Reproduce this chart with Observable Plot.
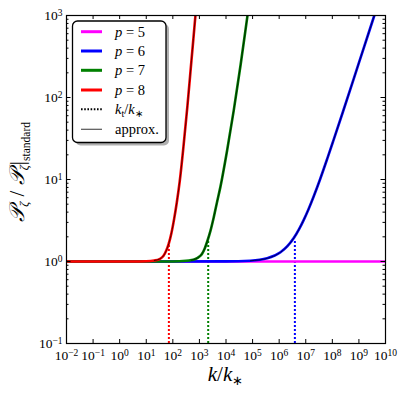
<!DOCTYPE html>
<html><head><meta charset="utf-8">
<script src="https://cdn.jsdelivr.net/npm/d3@7"></script>
<script src="https://cdn.jsdelivr.net/npm/@observablehq/plot@0.6"></script>
<style>
body{margin:0;background:#fff;}
#wrap{width:405px;height:394px;}
</style></head><body><div id="wrap"></div>
<script>
// ---- data ----
const seriesP = [5, 6, 7, 8];
const seriesColors = ["#ff00ff", "#0000ff", "#008000", "#ff0000"];

const k_p5 = [1e-2, 1e10];
const P_p5 = [1, 1];

const k_p6 = [1e-2, 1e4, 8.3e4, 3.55e5, 1.12e6, 2.0e6, 3.55e6, 5.62e6, 8.51e6, 1.26e7, 2.0e7, 3.55e7, 6.46e7, 1.07e8, 2.51e8, 6.46e8, 1.58e9, 3.8e9, 5.0e9];
const P_p6 = [1, 1.003, 1.022, 1.093, 1.295, 1.525, 1.93, 2.48, 3.24, 4.31, 6.25, 10.3, 18, 29.2, 67, 171, 418, 1000, 1320];

const k_p7 = [1e-2, 1e2, 316, 501, 708, 1000, 1259, 1585, 1995, 2630, 3467, 4571, 6166, 10965, 19498, 35481, 63096, 72444];
const P_p7 = [1, 1.002, 1.019, 1.04, 1.072, 1.148, 1.245, 1.445, 1.778, 2.40, 3.47, 5.25, 8.13, 22.4, 69.2, 251, 955, 1318];

const k_p8 = [1e-2, 3.2, 10, 20, 31.6, 44.7, 56.2, 70.8, 89.1, 112, 141, 182, 251, 355, 501, 708, 794];
const P_p8 = [1, 1.001, 1.007, 1.028, 1.072, 1.175, 1.35, 1.66, 2.24, 3.31, 5.25, 9.55, 25.1, 79.4, 282, 1000, 1585];

// transition scales k_t/k_* (dotted lines) and curve value where they stop
const kt = [null, 3.9e6, 2.14e3, 71];
const ktTop = [null, 1.85, 1.8, 1.68];

const xTicks = [1e-2,1e-1,1e0,1e1,1e2,1e3,1e4,1e5,1e6,1e7,1e8,1e9,1e10];
const yTicks = [1e-1,1e0,1e1,1e2,1e3];
const yMinor = [];
for (const d of [1e-1,1e0,1e1,1e2]) for (const m of [2,3,4,5,6,7,8,9]) yMinor.push(d*m);

// ---- build tables ----
const ks = [k_p5, k_p6, k_p7, k_p8], Ps = [P_p5, P_p6, P_p7, P_p8];
const curves = [];
seriesP.forEach((p, i) => ks[i].forEach((k, j) => curves.push({p, k, P: Ps[i][j]})));
const approx = curves.filter(d => d.p !== 5 && d.P >= 1.02);
const dotted = [];
seriesP.forEach((p, i) => { if (kt[i]) dotted.push({p, k: kt[i], y1: 0.1, y2: ktTop[i]}); });

const W = 405, H = 394, mL = 66, mR = 20, mT = 15, mB = 51;
const fw = W - mL - mR, fh = H - mT - mB;
const colorScale = {domain: seriesP, range: seriesColors};

const svg = Plot.plot({
  width: W, height: H,
  marginLeft: mL, marginRight: mR, marginTop: mT, marginBottom: mB,
  style: {fontFamily: "'Liberation Serif', 'DejaVu Serif', serif", fontSize: "13px", color: "#000", background: "#fff"},
  x: {type: "log", domain: [1e-2, 1e10]},
  y: {type: "log", domain: [0.1, 1000]},
  color: colorScale,
  marks: [
    Plot.ruleX(dotted, {x: "k", y1: "y1", y2: "y2", stroke: "p", strokeWidth: 2, strokeDasharray: "2,2"}),
    Plot.line(curves, {x: "k", y: "P", z: "p", stroke: "p", strokeWidth: 2.6, curve: "monotone-x", clip: true}),
    Plot.line(approx, {x: "k", y: "P", z: "p", stroke: "#000", strokeWidth: 0.9, strokeOpacity: 0.75, curve: "monotone-x", clip: true}),
    // inward ticks on all four sides
    Plot.tickX(xTicks, {x: d => d, insetTop: fh - 4, stroke: "#000"}),
    Plot.tickX(xTicks, {x: d => d, insetBottom: fh - 4, stroke: "#000"}),
    Plot.tickY(yTicks, {y: d => d, insetRight: fw - 4.5, stroke: "#000"}),
    Plot.tickY(yTicks, {y: d => d, insetLeft: fw - 4.5, stroke: "#000"}),
    Plot.tickY(yMinor, {y: d => d, insetRight: fw - 2.5, stroke: "#000"}),
    Plot.tickY(yMinor, {y: d => d, insetLeft: fw - 2.5, stroke: "#000"}),
    Plot.axisX({ticks: xTicks, tickSize: 0, tickPadding: 7, tickFormat: d => "10^" + Math.round(Math.log10(d)), label: null, fontSize: 13.5}),
    Plot.axisY({ticks: yTicks, tickSize: 0, tickPadding: 4, tickFormat: d => "10^" + Math.round(Math.log10(d)), label: null, fontSize: 13.5}),
    Plot.frame({stroke: "#000", strokeWidth: 1.2})
  ]
});
document.getElementById("wrap").appendChild(svg);

const S = d3.select(svg);
// superscripts in tick labels
S.selectAll('g[aria-label="x-axis tick label"] text, g[aria-label="y-axis tick label"] text').each(function() {
  const t = this.textContent;
  const [b, e] = t.split("^");
  const el = d3.select(this);
  el.text(null);
  el.append("tspan").text(b);
  el.append("tspan").attr("dy", "-0.45em").attr("font-size", "9.5px").text(e.replace("-", "\u2212"));
});

// x label
const xl = S.append("text").attr("x", mL + fw / 2).attr("y", 381).attr("text-anchor", "middle")
  .attr("font-family", "'Liberation Serif', serif").attr("font-size", "21px");
xl.append("tspan").attr("font-style", "italic").text("k");
xl.append("tspan").text("/");
xl.append("tspan").attr("font-style", "italic").text("k");
xl.append("tspan").attr("font-size", "13px").attr("dy", "4").text("\u2217");

// y label
const yl = S.append("text").attr("transform", "translate(24,172) rotate(-90)").attr("text-anchor", "middle")
  .attr("font-family", "'Liberation Serif', serif").attr("font-size", "21px");
yl.append("tspan").attr("font-style", "italic").text("\uD835\uDCAB");
yl.append("tspan").attr("font-size", "13px").attr("dy", "4").attr("font-style", "italic").text("ζ");
yl.append("tspan").attr("dy", "-4").text(" / ");
yl.append("tspan").attr("font-style", "italic").text("\uD835\uDCAB");
yl.append("tspan").attr("font-size", "13px").attr("dy", "4").attr("font-style", "italic").text("ζ");
yl.append("tspan").attr("dy", "-4").text("|");
yl.append("tspan").attr("font-size", "11.5px").attr("dy", "6").text("standard");

// legend
const lg = S.append("g").attr("font-family", "'Liberation Serif', serif").attr("font-size", "14.5px").attr("text-anchor", "start");
const bx = 72.5, by = 21, bw = 93.5, bh = 121.5;
lg.append("rect").attr("x", bx + 3).attr("y", by + 3).attr("width", bw).attr("height", bh).attr("rx", 5).attr("fill", "#b0b0b0");
lg.append("rect").attr("x", bx).attr("y", by).attr("width", bw).attr("height", bh).attr("rx", 5).attr("fill", "#fff").attr("stroke", "#000").attr("stroke-width", 1.3);
const rowY = [31.7, 51, 70.3, 90, 109.3, 129.3];
seriesP.forEach((p, i) => {
  lg.append("line").attr("x1", 81).attr("x2", 102).attr("y1", rowY[i]).attr("y2", rowY[i]).attr("stroke", seriesColors[i]).attr("stroke-width", 3);
  const t = lg.append("text").attr("x", 115).attr("y", rowY[i] + 5).attr("text-anchor", "start");
  t.append("tspan").attr("font-style", "italic").text("p");
  t.append("tspan").text(" = " + p);
});
lg.append("line").attr("x1", 81).attr("x2", 102).attr("y1", rowY[4]).attr("y2", rowY[4]).attr("stroke", "#000").attr("stroke-width", 2).attr("stroke-dasharray", "1.6,1.6");
const kt_t = lg.append("text").attr("x", 115).attr("y", rowY[4] + 5).attr("text-anchor", "start");
kt_t.append("tspan").attr("font-style", "italic").text("k");
kt_t.append("tspan").attr("font-size", "10px").attr("dy", "3").text("t");
kt_t.append("tspan").attr("dy", "-3").text("/");
kt_t.append("tspan").attr("font-style", "italic").text("k");
kt_t.append("tspan").attr("font-size", "10px").attr("dy", "3").text("\u2217");
lg.append("line").attr("x1", 81).attr("x2", 102).attr("y1", rowY[5]).attr("y2", rowY[5]).attr("stroke", "#555").attr("stroke-width", 1.2);
lg.append("text").attr("x", 115).attr("y", rowY[5] + 5).attr("text-anchor", "start").text("approx.");
</script></body></html>
